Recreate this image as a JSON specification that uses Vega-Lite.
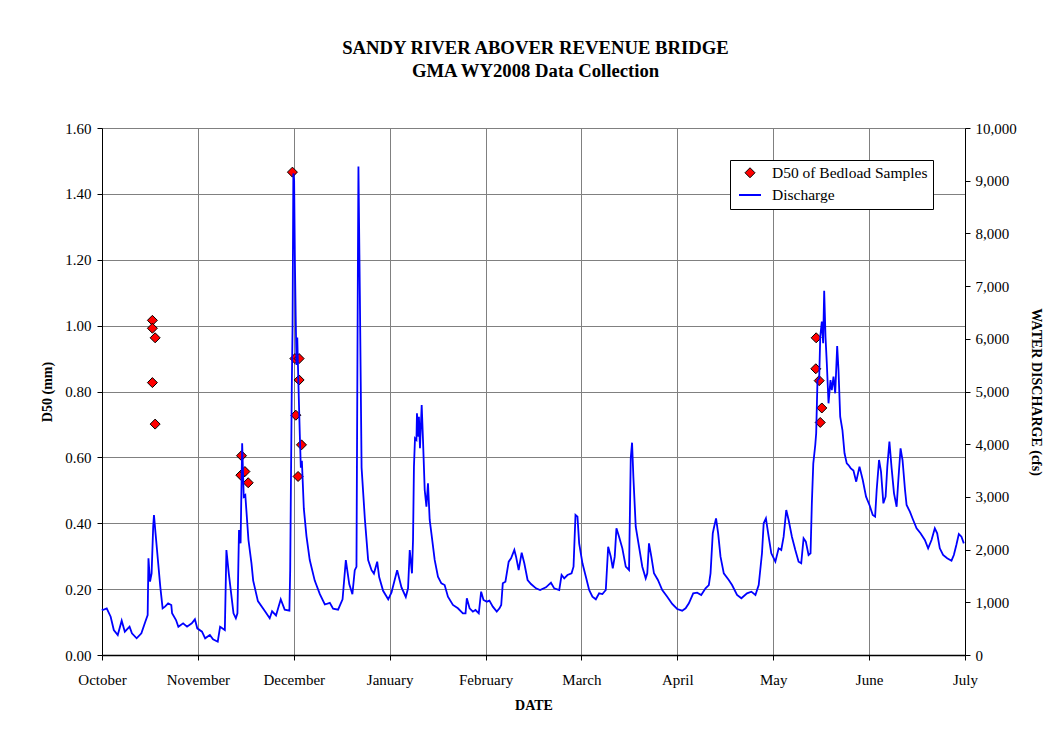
{
  "$schema": "https://vega.github.io/schema/vega-lite/v6.json",
  "width": 863,
  "height": 527,
  "padding": {"left": 40, "top": 39, "right": 10, "bottom": 10},
  "background": "white",
  "title": {
    "text": ["SANDY RIVER ABOVER REVENUE BRIDGE", "GMA WY2008 Data Collection"],
    "font": "Liberation Serif", "fontSize": 18.7, "fontWeight": "bold", "lineHeight": 23,
    "color": "black", "anchor": "middle", "frame": "group", "offset": 40, "dx": 2
  },
  "datasets": {
    "d50": [
      {"t": "2007-10-17T00:00Z", "d50": 1.016},
      {"t": "2007-10-17T00:00Z", "d50": 0.992},
      {"t": "2007-10-17T21:00Z", "d50": 0.963},
      {"t": "2007-10-17T00:00Z", "d50": 0.827},
      {"t": "2007-10-17T21:00Z", "d50": 0.701},
      {"t": "2007-11-14T02:00Z", "d50": 0.546},
      {"t": "2007-11-14T07:00Z", "d50": 0.605},
      {"t": "2007-11-15T09:00Z", "d50": 0.557},
      {"t": "2007-11-16T10:00Z", "d50": 0.523},
      {"t": "2007-11-30T11:00Z", "d50": 1.466},
      {"t": "2007-12-01T06:00Z", "d50": 0.900},
      {"t": "2007-12-01T13:00Z", "d50": 0.728},
      {"t": "2007-12-02T06:00Z", "d50": 0.542},
      {"t": "2007-12-02T14:00Z", "d50": 0.900},
      {"t": "2007-12-02T14:00Z", "d50": 0.835},
      {"t": "2007-12-03T08:00Z", "d50": 0.638},
      {"t": "2008-05-14T15:00Z", "d50": 0.869},
      {"t": "2008-05-14T18:00Z", "d50": 0.963},
      {"t": "2008-05-15T17:00Z", "d50": 0.833},
      {"t": "2008-05-16T01:00Z", "d50": 0.706},
      {"t": "2008-05-16T13:00Z", "d50": 0.750}
    ],
    "discharge": [
      {"t": "2007-10-01T00:00Z", "q": 870},
      {"t": "2007-10-01T06:00Z", "q": 854},
      {"t": "2007-10-02T12:00Z", "q": 886},
      {"t": "2007-10-03T18:00Z", "q": 727},
      {"t": "2007-10-04T18:00Z", "q": 474},
      {"t": "2007-10-06T00:00Z", "q": 380},
      {"t": "2007-10-07T06:00Z", "q": 651},
      {"t": "2007-10-08T06:00Z", "q": 442},
      {"t": "2007-10-09T18:00Z", "q": 537},
      {"t": "2007-10-10T12:00Z", "q": 411},
      {"t": "2007-10-12T00:00Z", "q": 317},
      {"t": "2007-10-13T12:00Z", "q": 411},
      {"t": "2007-10-14T18:00Z", "q": 632},
      {"t": "2007-10-15T12:00Z", "q": 759},
      {"t": "2007-10-15T18:00Z", "q": 1835},
      {"t": "2007-10-16T06:00Z", "q": 1391},
      {"t": "2007-10-16T18:00Z", "q": 1550},
      {"t": "2007-10-17T06:00Z", "q": 2435},
      {"t": "2007-10-17T12:00Z", "q": 2657},
      {"t": "2007-10-18T00:00Z", "q": 2309},
      {"t": "2007-10-18T18:00Z", "q": 1803},
      {"t": "2007-10-19T12:00Z", "q": 1296},
      {"t": "2007-10-20T06:00Z", "q": 886},
      {"t": "2007-10-21T00:00Z", "q": 917},
      {"t": "2007-10-22T00:00Z", "q": 980},
      {"t": "2007-10-23T00:00Z", "q": 949},
      {"t": "2007-10-23T06:00Z", "q": 791},
      {"t": "2007-10-24T12:00Z", "q": 664},
      {"t": "2007-10-25T06:00Z", "q": 537},
      {"t": "2007-10-26T18:00Z", "q": 601},
      {"t": "2007-10-28T00:00Z", "q": 537},
      {"t": "2007-10-29T12:00Z", "q": 601},
      {"t": "2007-10-30T12:00Z", "q": 677},
      {"t": "2007-10-31T06:00Z", "q": 506},
      {"t": "2007-11-01T18:00Z", "q": 442},
      {"t": "2007-11-02T18:00Z", "q": 317},
      {"t": "2007-11-04T06:00Z", "q": 380},
      {"t": "2007-11-05T06:00Z", "q": 297},
      {"t": "2007-11-06T18:00Z", "q": 252},
      {"t": "2007-11-07T12:00Z", "q": 537},
      {"t": "2007-11-09T00:00Z", "q": 474},
      {"t": "2007-11-09T12:00Z", "q": 1992},
      {"t": "2007-11-10T06:00Z", "q": 1550},
      {"t": "2007-11-11T00:00Z", "q": 1171},
      {"t": "2007-11-11T18:00Z", "q": 791},
      {"t": "2007-11-12T12:00Z", "q": 696},
      {"t": "2007-11-13T00:00Z", "q": 791},
      {"t": "2007-11-13T12:00Z", "q": 2372},
      {"t": "2007-11-14T00:00Z", "q": 2119},
      {"t": "2007-11-14T12:00Z", "q": 4017},
      {"t": "2007-11-15T00:00Z", "q": 3004},
      {"t": "2007-11-15T12:00Z", "q": 3036},
      {"t": "2007-11-16T12:00Z", "q": 2182},
      {"t": "2007-11-17T11:00Z", "q": 1740},
      {"t": "2007-11-18T00:00Z", "q": 1412},
      {"t": "2007-11-19T12:00Z", "q": 1023},
      {"t": "2007-11-21T18:00Z", "q": 829},
      {"t": "2007-11-23T06:00Z", "q": 698},
      {"t": "2007-11-24T00:00Z", "q": 829},
      {"t": "2007-11-25T06:00Z", "q": 751},
      {"t": "2007-11-26T18:00Z", "q": 1057},
      {"t": "2007-11-28T00:00Z", "q": 861},
      {"t": "2007-11-29T12:00Z", "q": 842},
      {"t": "2007-11-29T18:00Z", "q": 1609},
      {"t": "2007-11-30T06:00Z", "q": 5049},
      {"t": "2007-11-30T12:00Z", "q": 6218},
      {"t": "2007-11-30T18:00Z", "q": 9138},
      {"t": "2007-12-01T00:00Z", "q": 9009},
      {"t": "2007-12-01T06:00Z", "q": 7451},
      {"t": "2007-12-01T12:00Z", "q": 6414},
      {"t": "2007-12-01T18:00Z", "q": 5505},
      {"t": "2007-12-02T00:00Z", "q": 6023},
      {"t": "2007-12-02T09:00Z", "q": 5114},
      {"t": "2007-12-02T19:00Z", "q": 4205},
      {"t": "2007-12-03T03:00Z", "q": 3556},
      {"t": "2007-12-03T11:00Z", "q": 3685},
      {"t": "2007-12-04T02:00Z", "q": 2776},
      {"t": "2007-12-04T22:00Z", "q": 2256},
      {"t": "2007-12-05T23:00Z", "q": 1802},
      {"t": "2007-12-07T13:00Z", "q": 1412},
      {"t": "2007-12-09T04:00Z", "q": 1154},
      {"t": "2007-12-10T18:00Z", "q": 958},
      {"t": "2007-12-12T08:00Z", "q": 990},
      {"t": "2007-12-13T09:00Z", "q": 880},
      {"t": "2007-12-14T23:00Z", "q": 861},
      {"t": "2007-12-16T09:00Z", "q": 1057},
      {"t": "2007-12-17T10:00Z", "q": 1802},
      {"t": "2007-12-18T12:00Z", "q": 1347},
      {"t": "2007-12-19T12:00Z", "q": 1154},
      {"t": "2007-12-20T06:00Z", "q": 1609},
      {"t": "2007-12-20T19:00Z", "q": 1674},
      {"t": "2007-12-21T06:00Z", "q": 7451},
      {"t": "2007-12-21T10:00Z", "q": 9269},
      {"t": "2007-12-21T21:00Z", "q": 6803},
      {"t": "2007-12-22T10:00Z", "q": 3556},
      {"t": "2007-12-23T11:00Z", "q": 2581},
      {"t": "2007-12-24T12:00Z", "q": 1802},
      {"t": "2007-12-25T14:00Z", "q": 1609},
      {"t": "2007-12-26T08:00Z", "q": 1545},
      {"t": "2007-12-27T09:00Z", "q": 1770},
      {"t": "2007-12-28T00:00Z", "q": 1478},
      {"t": "2007-12-29T06:00Z", "q": 1218},
      {"t": "2007-12-30T21:00Z", "q": 1057},
      {"t": "2007-12-31T22:00Z", "q": 1186},
      {"t": "2008-01-02T17:00Z", "q": 1609},
      {"t": "2008-01-04T02:00Z", "q": 1283},
      {"t": "2008-01-05T11:00Z", "q": 1101},
      {"t": "2008-01-06T04:00Z", "q": 1265},
      {"t": "2008-01-06T17:00Z", "q": 1992},
      {"t": "2008-01-07T10:00Z", "q": 1550},
      {"t": "2008-01-07T18:00Z", "q": 2182},
      {"t": "2008-01-08T01:00Z", "q": 3574},
      {"t": "2008-01-08T09:00Z", "q": 4112},
      {"t": "2008-01-08T20:00Z", "q": 4080},
      {"t": "2008-01-09T00:00Z", "q": 4586},
      {"t": "2008-01-09T11:00Z", "q": 4143},
      {"t": "2008-01-09T15:00Z", "q": 4522},
      {"t": "2008-01-09T23:00Z", "q": 3922},
      {"t": "2008-01-10T12:00Z", "q": 4744},
      {"t": "2008-01-10T22:00Z", "q": 4080},
      {"t": "2008-01-11T11:00Z", "q": 3131},
      {"t": "2008-01-12T00:00Z", "q": 2814},
      {"t": "2008-01-12T12:00Z", "q": 3258},
      {"t": "2008-01-13T01:00Z", "q": 2562},
      {"t": "2008-01-13T14:00Z", "q": 2309},
      {"t": "2008-01-14T15:00Z", "q": 1803},
      {"t": "2008-01-15T16:00Z", "q": 1486},
      {"t": "2008-01-16T18:00Z", "q": 1360},
      {"t": "2008-01-17T19:00Z", "q": 1328},
      {"t": "2008-01-18T20:00Z", "q": 1107},
      {"t": "2008-01-20T10:00Z", "q": 949},
      {"t": "2008-01-22T00:00Z", "q": 886},
      {"t": "2008-01-23T14:00Z", "q": 791},
      {"t": "2008-01-24T10:00Z", "q": 791},
      {"t": "2008-01-24T20:00Z", "q": 1076},
      {"t": "2008-01-25T17:00Z", "q": 886},
      {"t": "2008-01-26T18:00Z", "q": 822},
      {"t": "2008-01-27T14:00Z", "q": 854},
      {"t": "2008-01-28T15:00Z", "q": 791},
      {"t": "2008-01-29T09:00Z", "q": 1202},
      {"t": "2008-01-30T03:00Z", "q": 1044},
      {"t": "2008-01-31T04:00Z", "q": 1012},
      {"t": "2008-02-01T00:00Z", "q": 1031},
      {"t": "2008-02-02T02:00Z", "q": 917},
      {"t": "2008-02-03T08:00Z", "q": 822},
      {"t": "2008-02-04T05:00Z", "q": 886},
      {"t": "2008-02-04T18:00Z", "q": 949},
      {"t": "2008-02-05T06:00Z", "q": 1360},
      {"t": "2008-02-06T02:00Z", "q": 1391},
      {"t": "2008-02-07T03:00Z", "q": 1771},
      {"t": "2008-02-07T21:00Z", "q": 1835},
      {"t": "2008-02-08T22:00Z", "q": 1992},
      {"t": "2008-02-09T11:00Z", "q": 1866},
      {"t": "2008-02-10T07:00Z", "q": 1613},
      {"t": "2008-02-11T06:00Z", "q": 1941},
      {"t": "2008-02-12T02:00Z", "q": 1740},
      {"t": "2008-02-13T03:00Z", "q": 1423},
      {"t": "2008-02-14T05:00Z", "q": 1347},
      {"t": "2008-02-15T19:00Z", "q": 1265},
      {"t": "2008-02-17T02:00Z", "q": 1233},
      {"t": "2008-02-18T23:00Z", "q": 1284},
      {"t": "2008-02-20T13:00Z", "q": 1372},
      {"t": "2008-02-21T14:00Z", "q": 1265},
      {"t": "2008-02-23T04:00Z", "q": 1233},
      {"t": "2008-02-23T22:00Z", "q": 1518},
      {"t": "2008-02-24T18:00Z", "q": 1455},
      {"t": "2008-02-25T19:00Z", "q": 1518},
      {"t": "2008-02-27T02:00Z", "q": 1550},
      {"t": "2008-02-27T17:00Z", "q": 1676},
      {"t": "2008-02-28T08:00Z", "q": 2657},
      {"t": "2008-02-28T23:00Z", "q": 2625},
      {"t": "2008-02-29T12:00Z", "q": 2119},
      {"t": "2008-03-01T13:00Z", "q": 1740},
      {"t": "2008-03-02T15:00Z", "q": 1486},
      {"t": "2008-03-03T16:00Z", "q": 1233},
      {"t": "2008-03-04T17:00Z", "q": 1107},
      {"t": "2008-03-05T19:00Z", "q": 1057},
      {"t": "2008-03-06T20:00Z", "q": 1171},
      {"t": "2008-03-07T21:00Z", "q": 1157},
      {"t": "2008-03-08T23:00Z", "q": 1233},
      {"t": "2008-03-09T17:00Z", "q": 2055},
      {"t": "2008-03-10T13:00Z", "q": 1866},
      {"t": "2008-03-11T04:00Z", "q": 1645},
      {"t": "2008-03-11T19:00Z", "q": 1866},
      {"t": "2008-03-12T08:00Z", "q": 2404},
      {"t": "2008-03-13T04:00Z", "q": 2245},
      {"t": "2008-03-14T05:00Z", "q": 2024},
      {"t": "2008-03-15T07:00Z", "q": 1676},
      {"t": "2008-03-16T08:00Z", "q": 1613},
      {"t": "2008-03-16T21:00Z", "q": 3732},
      {"t": "2008-03-17T07:00Z", "q": 4029},
      {"t": "2008-03-17T17:00Z", "q": 3384},
      {"t": "2008-03-18T11:00Z", "q": 2435},
      {"t": "2008-03-19T12:00Z", "q": 2055},
      {"t": "2008-03-20T13:00Z", "q": 1676},
      {"t": "2008-03-21T15:00Z", "q": 1455},
      {"t": "2008-03-22T03:00Z", "q": 1550},
      {"t": "2008-03-22T16:00Z", "q": 2119},
      {"t": "2008-03-23T10:00Z", "q": 1866},
      {"t": "2008-03-24T06:00Z", "q": 1550},
      {"t": "2008-03-25T12:00Z", "q": 1423},
      {"t": "2008-03-26T21:00Z", "q": 1233},
      {"t": "2008-03-28T11:00Z", "q": 1107},
      {"t": "2008-03-30T01:00Z", "q": 968},
      {"t": "2008-03-31T15:00Z", "q": 873},
      {"t": "2008-04-02T05:00Z", "q": 841},
      {"t": "2008-04-03T07:00Z", "q": 886},
      {"t": "2008-04-04T08:00Z", "q": 980},
      {"t": "2008-04-05T17:00Z", "q": 1171},
      {"t": "2008-04-06T23:00Z", "q": 1183},
      {"t": "2008-04-08T06:00Z", "q": 1139},
      {"t": "2008-04-09T15:00Z", "q": 1265},
      {"t": "2008-04-10T16:00Z", "q": 1328},
      {"t": "2008-04-11T05:00Z", "q": 1550},
      {"t": "2008-04-11T22:00Z", "q": 2309},
      {"t": "2008-04-12T06:00Z", "q": 2404},
      {"t": "2008-04-12T23:00Z", "q": 2593},
      {"t": "2008-04-13T15:00Z", "q": 2309},
      {"t": "2008-04-14T09:00Z", "q": 1866},
      {"t": "2008-04-15T10:00Z", "q": 1550},
      {"t": "2008-04-17T00:00Z", "q": 1423},
      {"t": "2008-04-18T01:00Z", "q": 1328},
      {"t": "2008-04-19T15:00Z", "q": 1139},
      {"t": "2008-04-21T00:00Z", "q": 1076},
      {"t": "2008-04-22T19:00Z", "q": 1171},
      {"t": "2008-04-24T04:00Z", "q": 1202},
      {"t": "2008-04-25T11:00Z", "q": 1139},
      {"t": "2008-04-26T12:00Z", "q": 1328},
      {"t": "2008-04-27T13:00Z", "q": 1930},
      {"t": "2008-04-28T02:00Z", "q": 2499},
      {"t": "2008-04-28T19:00Z", "q": 2593},
      {"t": "2008-04-29T16:00Z", "q": 2245},
      {"t": "2008-04-30T12:00Z", "q": 1930},
      {"t": "2008-05-01T19:00Z", "q": 1771},
      {"t": "2008-05-02T20:00Z", "q": 2024},
      {"t": "2008-05-03T16:00Z", "q": 1992},
      {"t": "2008-05-04T10:00Z", "q": 2245},
      {"t": "2008-05-05T06:00Z", "q": 2751},
      {"t": "2008-05-06T00:00Z", "q": 2562},
      {"t": "2008-05-07T01:00Z", "q": 2245},
      {"t": "2008-05-08T03:00Z", "q": 1992},
      {"t": "2008-05-09T04:00Z", "q": 1771},
      {"t": "2008-05-10T00:00Z", "q": 1740},
      {"t": "2008-05-10T18:00Z", "q": 2214},
      {"t": "2008-05-11T11:00Z", "q": 2151},
      {"t": "2008-05-12T08:00Z", "q": 1898},
      {"t": "2008-05-12T23:00Z", "q": 1930},
      {"t": "2008-05-13T09:00Z", "q": 2878},
      {"t": "2008-05-13T20:00Z", "q": 3637},
      {"t": "2008-05-14T11:00Z", "q": 3985},
      {"t": "2008-05-14T18:00Z", "q": 4207},
      {"t": "2008-05-15T04:00Z", "q": 5218},
      {"t": "2008-05-15T17:00Z", "q": 5250},
      {"t": "2008-05-16T01:00Z", "q": 6040},
      {"t": "2008-05-16T13:00Z", "q": 6325},
      {"t": "2008-05-16T23:00Z", "q": 5915},
      {"t": "2008-05-17T07:00Z", "q": 6913},
      {"t": "2008-05-17T17:00Z", "q": 6040},
      {"t": "2008-05-18T03:00Z", "q": 5535},
      {"t": "2008-05-18T16:00Z", "q": 4776},
      {"t": "2008-05-19T07:00Z", "q": 5218},
      {"t": "2008-05-19T17:00Z", "q": 5028},
      {"t": "2008-05-20T06:00Z", "q": 5281},
      {"t": "2008-05-20T19:00Z", "q": 4966},
      {"t": "2008-05-21T10:00Z", "q": 5863},
      {"t": "2008-05-21T20:00Z", "q": 5408},
      {"t": "2008-05-22T09:00Z", "q": 4522},
      {"t": "2008-05-23T02:00Z", "q": 4269},
      {"t": "2008-05-23T18:00Z", "q": 3827},
      {"t": "2008-05-24T11:00Z", "q": 3637},
      {"t": "2008-05-25T00:00Z", "q": 3605},
      {"t": "2008-05-25T18:00Z", "q": 3542},
      {"t": "2008-05-26T14:00Z", "q": 3500},
      {"t": "2008-05-27T11:00Z", "q": 3289},
      {"t": "2008-05-28T12:00Z", "q": 3574},
      {"t": "2008-05-29T13:00Z", "q": 3321},
      {"t": "2008-05-30T14:00Z", "q": 3004},
      {"t": "2008-05-31T16:00Z", "q": 2846},
      {"t": "2008-06-01T17:00Z", "q": 2657},
      {"t": "2008-06-02T11:00Z", "q": 2625},
      {"t": "2008-06-02T23:00Z", "q": 3131},
      {"t": "2008-06-03T17:00Z", "q": 3700},
      {"t": "2008-06-04T08:00Z", "q": 3479},
      {"t": "2008-06-05T02:00Z", "q": 2878},
      {"t": "2008-06-05T19:00Z", "q": 3004},
      {"t": "2008-06-06T08:00Z", "q": 3574},
      {"t": "2008-06-07T00:00Z", "q": 4048},
      {"t": "2008-06-07T17:00Z", "q": 3542},
      {"t": "2008-06-08T11:00Z", "q": 3068},
      {"t": "2008-06-09T07:00Z", "q": 2814},
      {"t": "2008-06-09T20:00Z", "q": 3321},
      {"t": "2008-06-10T13:00Z", "q": 3922},
      {"t": "2008-06-11T04:00Z", "q": 3700},
      {"t": "2008-06-11T23:00Z", "q": 3131},
      {"t": "2008-06-12T11:00Z", "q": 2846},
      {"t": "2008-06-13T12:00Z", "q": 2719},
      {"t": "2008-06-14T13:00Z", "q": 2562},
      {"t": "2008-06-15T15:00Z", "q": 2404},
      {"t": "2008-06-16T21:00Z", "q": 2309},
      {"t": "2008-06-18T06:00Z", "q": 2182},
      {"t": "2008-06-19T07:00Z", "q": 2024},
      {"t": "2008-06-20T09:00Z", "q": 2182},
      {"t": "2008-06-21T10:00Z", "q": 2404},
      {"t": "2008-06-22T04:00Z", "q": 2309},
      {"t": "2008-06-23T00:00Z", "q": 2024},
      {"t": "2008-06-24T01:00Z", "q": 1898},
      {"t": "2008-06-25T08:00Z", "q": 1835},
      {"t": "2008-06-26T17:00Z", "q": 1790},
      {"t": "2008-06-27T11:00Z", "q": 1898},
      {"t": "2008-06-28T06:00Z", "q": 2087},
      {"t": "2008-06-29T01:00Z", "q": 2296},
      {"t": "2008-06-29T21:00Z", "q": 2245},
      {"t": "2008-06-30T15:00Z", "q": 2119}
    ]
  },
  "encoding": {
    "x": {
      "field": "t", "type": "temporal",
      "scale": {"domain": [{"year": 2007, "month": 10, "date": 1, "utc": true}, {"year": 2008, "month": 7, "date": 1, "utc": true}], "nice": false},
      "axis": {
        "title": "DATE",
        "values": [1191196800000, 1193827200000, 1196457600000, 1199088000000, 1201718400000, 1204348800000, 1206979200000, 1209609600000, 1212240000000, 1214870400000],
        "labelExpr": "['October','November','December','January','February','March','April','May','June','July'][round((datum.value - 1191196800000) / 2630400000)]",
        "grid": true, "gridColor": "#808080", "gridWidth": 1,
        "domainColor": "#000000", "domainWidth": 1.5, "tickColor": "#000000", "tickSize": 5,
        "labelFont": "Liberation Serif", "labelFontSize": 15, "labelColor": "#000000", "labelPadding": 12, "labelAngle": 0, "labelFlush": false, "labelOverlap": false,
        "titleFont": "Liberation Serif", "titleFontSize": 14, "titleFontWeight": "bold", "titleColor": "#000000", "titlePadding": 11
      }
    }
  },
  "layer": [
    {
      "data": {"name": "d50"},
      "mark": {"type": "point", "filled": true, "opacity": 1},
      "encoding": {
        "y": {
          "field": "d50", "type": "quantitative",
          "scale": {"domain": [0, 1.6], "nice": false},
          "axis": {
            "title": "D50 (mm)", "orient": "left",
            "values": [0, 0.2, 0.4, 0.6, 0.8, 1.0, 1.2, 1.4, 1.6], "format": ".2f",
            "grid": true, "gridColor": "#808080", "gridWidth": 1,
            "domainColor": "#000000", "domainWidth": 1, "tickColor": "#000000", "tickSize": 5,
            "labelFont": "Liberation Serif", "labelFontSize": 15, "labelColor": "#000000", "labelPadding": 6,
            "titleFont": "Liberation Serif", "titleFontSize": 14, "titleFontWeight": "bold", "titleColor": "#000000", "titlePadding": 10
          }
        },
        "shape": {
          "datum": "D50 of Bedload Samples", "type": "nominal",
          "scale": {"domain": ["D50 of Bedload Samples", "Discharge"], "range": ["diamond", "stroke"]},
          "legend": {"title": null}
        },
        "fill": {
          "datum": "D50 of Bedload Samples", "type": "nominal",
          "scale": {"domain": ["D50 of Bedload Samples", "Discharge"], "range": ["#ff0000", "transparent"]},
          "legend": {"title": null}
        },
        "stroke": {
          "datum": "D50 of Bedload Samples", "type": "nominal",
          "scale": {"domain": ["D50 of Bedload Samples", "Discharge"], "range": ["#000000", "#0000ff"]},
          "legend": {"title": null}
        },
        "size": {
          "datum": "D50 of Bedload Samples", "type": "ordinal",
          "scale": {"domain": ["D50 of Bedload Samples", "Discharge"], "range": [100, 484]},
          "legend": {"title": null}
        },
        "strokeWidth": {
          "datum": "D50 of Bedload Samples", "type": "ordinal",
          "scale": {"domain": ["D50 of Bedload Samples", "Discharge"], "range": [1, 2]},
          "legend": {"title": null}
        }
      }
    },
    {
      "data": {"name": "discharge"},
      "mark": {"type": "line", "strokeWidth": 1.8, "color": "#0000ff"},
      "encoding": {
        "y": {
          "field": "q", "type": "quantitative",
          "scale": {"domain": [0, 10000], "nice": false},
          "axis": {
            "title": "WATER DISCHARGE (cfs)", "orient": "right",
            "values": [0, 1000, 2000, 3000, 4000, 5000, 6000, 7000, 8000, 9000, 10000], "format": ",d",
            "grid": false,
            "domainColor": "#000000", "domainWidth": 1, "tickColor": "#000000", "tickSize": 5,
            "labelFont": "Liberation Serif", "labelFontSize": 15, "labelColor": "#000000", "labelPadding": 5,
            "titleFont": "Liberation Serif", "titleFontSize": 14, "titleFontWeight": "bold", "titleColor": "#000000", "titlePadding": 12
          }
        }
      }
    }
  ],
  "resolve": {"scale": {"y": "independent"}},
  "config": {
    "view": {"stroke": null},
    "font": "Liberation Serif",
    "legend": {
      "orient": "none", "legendX": 628, "legendY": 32,
      "fillColor": "#ffffff", "strokeColor": "#000000", "padding": 5,
      "symbolOffset": 3, "rowPadding": 1, "labelOffset": 10,
      "labelFont": "Liberation Serif", "labelFontSize": 15.5, "labelColor": "#000000",
      "symbolOpacity": 1
    }
  }
}
